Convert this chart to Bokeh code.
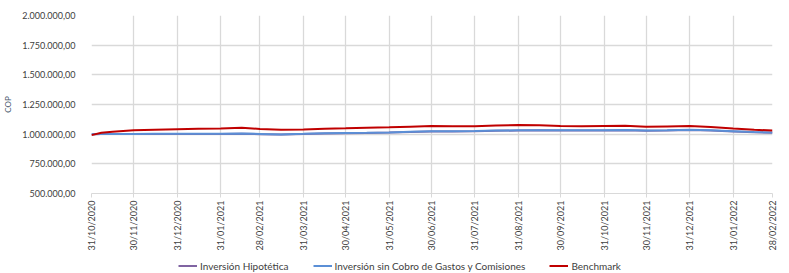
import pandas as pd
from bokeh.plotting import figure
from bokeh.layouts import column
from bokeh.models import (ColumnDataSource, FixedTicker, DatetimeTickFormatter,
                          Legend, LegendItem, Range1d)
from bokeh.embed import file_html
from bokeh.resources import INLINE
from math import pi

dates = ["2020-10-31", "2020-11-07", "2020-11-15", "2020-11-30", "2020-12-15", "2020-12-31",
         "2021-01-15", "2021-01-31", "2021-02-15", "2021-02-28", "2021-03-15", "2021-03-31",
         "2021-04-15", "2021-04-30", "2021-05-15", "2021-05-31", "2021-06-15", "2021-06-30",
         "2021-07-15", "2021-07-31", "2021-08-15", "2021-08-31", "2021-09-15", "2021-09-30",
         "2021-10-15", "2021-10-31", "2021-11-15", "2021-11-30", "2021-12-15", "2021-12-31",
         "2022-01-15", "2022-01-31", "2022-02-15", "2022-02-28"]

benchmark = [992000, 1012000, 1020000, 1033000, 1038000, 1042000,
             1045000, 1048000, 1055000, 1043000, 1038000, 1040000,
             1046000, 1050000, 1055000, 1058000, 1063000, 1068000,
             1067000, 1066000, 1072000, 1077000, 1075000, 1068000,
             1066000, 1068000, 1070000, 1062000, 1065000, 1068000,
             1060000, 1048000, 1038000, 1030000]

sin_cobro = [1000000, 1001000, 1002000, 1002000, 1003000, 1003000,
             1004000, 1004000, 1005000, 1002000, 998000, 1003000,
             1008000, 1010000, 1012000, 1015000, 1020000, 1025000,
             1025000, 1026000, 1030000, 1033000, 1034000, 1033000,
             1032000, 1033000, 1035000, 1030000, 1033000, 1037000,
             1032000, 1025000, 1018000, 1013000]

hipotetica = [1000000, 1000500, 1001000, 1001000, 1001500, 1001500,
              1002000, 1002000, 1003000, 1000000, 996500, 1001000,
              1006000, 1008000, 1010000, 1013000, 1018000, 1023000,
              1023000, 1024000, 1028000, 1031000, 1032000, 1031000,
              1030000, 1031000, 1033000, 1028000, 1031000, 1035000,
              1030000, 1023000, 1016000, 1011000]

x_ticks = ["2020-10-31", "2020-11-30", "2020-12-31", "2021-01-31", "2021-02-28", "2021-03-31",
           "2021-04-30", "2021-05-31", "2021-06-30", "2021-07-31", "2021-08-31", "2021-09-30",
           "2021-10-31", "2021-11-30", "2021-12-31", "2022-01-31", "2022-02-28"]

y_ticks = [500000, 750000, 1000000, 1250000, 1500000, 1750000, 2000000]
y_labels = ["500.000,00", "750.000,00", "1.000.000,00", "1.250.000,00",
            "1.500.000,00", "1.750.000,00", "2.000.000,00"]

series_names = ["Inversión Hipotética", "Inversión sin Cobro de Gastos y Comisiones", "Benchmark"]
colors = ["#8064A2", "#5B8FD6", "#C00000"]

FONT = "Lato"
TXT = "#404040"
GRID = "#D9D9D9"

src = ColumnDataSource(dict(
    d=pd.to_datetime(dates),
    h=hipotetica, s=sin_cobro, b=benchmark,
))

xt = pd.to_datetime(x_ticks)
p = figure(width=781, height=258, x_axis_type="datetime",
           x_range=(xt[0], xt[-1]), y_range=(500000, 2000000),
           output_backend="svg", toolbar_location=None,
           min_border_left=83, min_border_right=9, min_border_top=15, min_border_bottom=65)
p.outline_line_color = None
p.background_fill_color = "white"
p.border_fill_color = "white"

p.line("d", "h", source=src, color=colors[0], line_width=2)
p.line("d", "s", source=src, color=colors[1], line_width=2)
p.line("d", "b", source=src, color=colors[2], line_width=2)

# x axis
p.xaxis.ticker = FixedTicker(ticks=[t.value // 10**6 for t in xt])
fmt = "%d/%m/%Y"
p.xaxis.formatter = DatetimeTickFormatter(days=fmt, months=fmt, years=fmt, hours=fmt,
                                          minutes=fmt, seconds=fmt, milliseconds=fmt,
                                          microseconds=fmt, minsec=fmt, hourmin=fmt)
p.xaxis.major_label_orientation = pi / 2
p.xaxis.axis_line_color = GRID
p.xaxis.major_tick_line_color = GRID
p.xaxis.major_tick_in = 0
p.xaxis.major_tick_out = 4
p.xaxis.minor_tick_line_color = None
p.xaxis.major_label_text_font = FONT
p.xaxis.major_label_text_font_size = "9px"
p.xaxis.major_label_text_color = TXT
p.xaxis.major_label_standoff = 3

# y axis
p.yaxis.ticker = FixedTicker(ticks=y_ticks)
p.yaxis.major_label_overrides = {t: l for t, l in zip(y_ticks, y_labels)}
p.yaxis.axis_line_color = None
p.yaxis.major_tick_line_color = None
p.yaxis.minor_tick_line_color = None
p.yaxis.major_label_text_font = FONT
p.yaxis.major_label_text_font_size = "9px"
p.yaxis.major_label_text_color = TXT
p.yaxis.major_label_standoff = 10
p.yaxis.axis_label = "COP"
p.yaxis.axis_label_text_font = FONT
p.yaxis.axis_label_text_font_size = "8px"
p.yaxis.axis_label_text_font_style = "normal"
p.yaxis.axis_label_text_color = "#44546A"
p.yaxis.axis_label_standoff = 6

p.xgrid.grid_line_color = GRID
p.ygrid.grid_line_color = GRID
p.xgrid.grid_line_width = 1.3
p.ygrid.grid_line_width = 1.3

# legend strip (lines kept outside its visible range; only the legend shows)
lg = figure(width=781, height=15, output_backend="svg", toolbar_location=None,
            x_range=Range1d(0, 1), y_range=Range1d(0, 1),
            x_axis_location=None, y_axis_location=None, min_border=0)
lg.outline_line_color = None
lg.xgrid.visible = False
lg.ygrid.visible = False
items = []
for name, c in zip(series_names, colors):
    r = lg.line(x=[5, 6], y=[5, 6], color=c, line_width=2)
    items.append(LegendItem(label=name, renderers=[r]))
legend = Legend(items=items, orientation="horizontal", location=(87, 0),
                glyph_width=19, glyph_height=15, label_height=15,
                label_standoff=3, spacing=24, padding=0, margin=0,
                border_line_color=None, background_fill_alpha=0,
                label_text_font=FONT, label_text_font_size="10px",
                label_text_color=TXT)
lg.add_layout(legend, "center")

layout = column(p, lg, spacing=0)
open("out.html", "w").write(file_html(layout, INLINE))
